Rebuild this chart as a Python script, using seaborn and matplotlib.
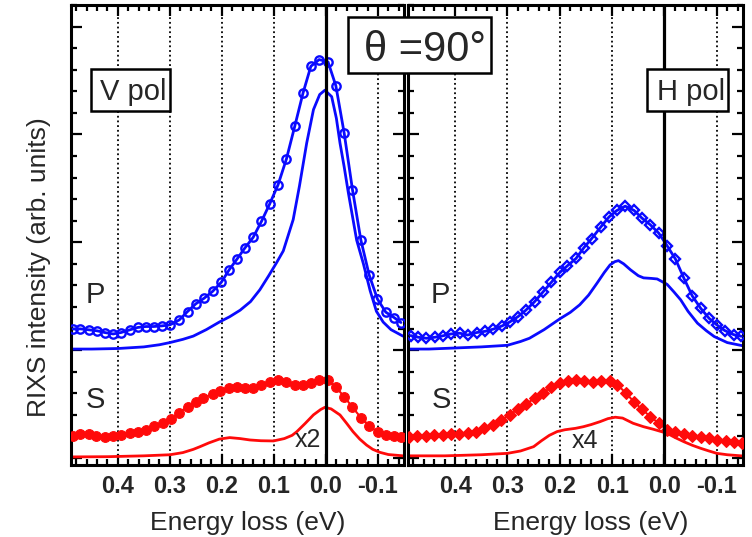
import matplotlib
matplotlib.use("Agg")
import matplotlib.pyplot as plt
from matplotlib.patches import Rectangle
from matplotlib.ticker import MultipleLocator
import pandas as pd
import seaborn as sns

# ---------------- V pol : P channel ----------------
vpol_p_exp_e = [0.486, 0.472, 0.455, 0.440, 0.425, 0.409, 0.394, 0.377, 0.362, 0.346,
                0.331, 0.315, 0.300, 0.282, 0.266, 0.250, 0.234, 0.218, 0.201, 0.186,
                0.171, 0.156, 0.140, 0.124, 0.108, 0.092, 0.076, 0.060, 0.044, 0.029,
                0.013, -0.004, -0.019, -0.035, -0.051, -0.067, -0.083, -0.099, -0.115,
                -0.131, -0.144]
vpol_p_exp_i = [1.197, 1.197, 1.188, 1.179, 1.163, 1.150, 1.163, 1.188, 1.210, 1.219,
                1.219, 1.225, 1.234, 1.280, 1.358, 1.430, 1.482, 1.544, 1.630, 1.745,
                1.844, 1.946, 2.045, 2.193, 2.357, 2.534, 2.772, 3.075, 3.385, 3.632,
                3.694, 3.672, 3.452, 3.013, 2.487, 2.023, 1.698, 1.473, 1.352,
                1.302, 1.256]
vpol_p_calc_e = [0.490, 0.450, 0.400, 0.350, 0.320, 0.300, 0.275, 0.255, 0.230, 0.205,
                 0.185, 0.165, 0.145, 0.127, 0.110, 0.095, 0.082, 0.063, 0.051, 0.037,
                 0.024, 0.012, 0.002, -0.011, -0.020, -0.027, -0.035, -0.043, -0.051,
                 -0.059, -0.072, -0.085, -0.097, -0.110, -0.125, -0.148]
vpol_p_calc_i = [1.010, 1.010, 1.015, 1.030, 1.050, 1.070, 1.100, 1.130, 1.190, 1.260,
                 1.310, 1.370, 1.450, 1.560, 1.690, 1.810, 1.920, 2.210, 2.520, 2.920,
                 3.230, 3.370, 3.410, 3.350, 3.150, 2.920, 2.700, 2.460, 2.240,
                 2.020, 1.800, 1.550, 1.360, 1.260, 1.190, 1.130]

# ---------------- V pol : S channel ----------------
vpol_s_exp_e = [0.487, 0.472, 0.455, 0.441, 0.425, 0.409, 0.393, 0.377, 0.361, 0.345,
                0.331, 0.314, 0.298, 0.282, 0.266, 0.250, 0.236, 0.218, 0.203, 0.186,
                0.171, 0.156, 0.140, 0.124, 0.108, 0.092, 0.077, 0.060, 0.044, 0.028,
                0.013, -0.003, -0.019, -0.035, -0.051, -0.067, -0.083, -0.100, -0.115,
                -0.130, -0.145]
vpol_s_exp_i = [0.204, 0.223, 0.223, 0.204, 0.198, 0.204, 0.213, 0.235, 0.245, 0.260,
                0.300, 0.322, 0.359, 0.421, 0.476, 0.523, 0.560, 0.590, 0.625, 0.650,
                0.657, 0.650, 0.650, 0.680, 0.708, 0.720, 0.705, 0.674, 0.674, 0.693,
                0.720, 0.720, 0.657, 0.569, 0.470, 0.375, 0.300, 0.237, 0.210,
                0.200, 0.193]
vpol_s_calc_e = [0.490, 0.420, 0.350, 0.300, 0.275, 0.255, 0.242, 0.225, 0.205, 0.185,
                 0.165, 0.146, 0.125, 0.101, 0.080, 0.065, 0.056, 0.040, 0.024, 0.010,
                 0.002, -0.010, -0.027, -0.040, -0.052, -0.065, -0.078, -0.090, -0.104,
                 -0.120, -0.148]
vpol_s_calc_i = [0.010, 0.012, 0.020, 0.030, 0.050, 0.080, 0.105, 0.140, 0.175, 0.189,
                 0.180, 0.167, 0.160, 0.158, 0.180, 0.210, 0.244, 0.320, 0.400, 0.450,
                 0.470, 0.455, 0.399, 0.320, 0.244, 0.175, 0.120, 0.080, 0.052,
                 0.032, 0.020]

# ---------------- H pol : P channel ----------------
hpol_p_exp_e = [0.485, 0.471, 0.455, 0.438, 0.424, 0.408, 0.391, 0.376, 0.359, 0.342,
                0.327, 0.310, 0.296, 0.280, 0.265, 0.248, 0.232, 0.216, 0.200, 0.186,
                0.169, 0.154, 0.139, 0.122, 0.106, 0.091, 0.075, 0.058, 0.043, 0.027,
                0.011, -0.005, -0.021, -0.037, -0.053, -0.069, -0.085, -0.100, -0.115,
                -0.132, -0.147]
hpol_p_exp_i = [1.135, 1.120, 1.110, 1.120, 1.132, 1.150, 1.157, 1.140, 1.163, 1.175,
                1.195, 1.225, 1.260, 1.310, 1.370, 1.450, 1.540, 1.630, 1.720, 1.780,
                1.850, 1.950, 2.035, 2.140, 2.235, 2.295, 2.335, 2.295, 2.224, 2.162,
                2.085, 1.968, 1.844, 1.668, 1.503, 1.389, 1.296, 1.234, 1.182,
                1.144, 1.128]
hpol_p_calc_e = [0.490, 0.450, 0.400, 0.350, 0.300, 0.275, 0.258, 0.230, 0.200, 0.180,
                 0.162, 0.145, 0.129, 0.115, 0.104, 0.095, 0.088, 0.078, 0.065, 0.050,
                 0.040, 0.025, 0.014, -0.005, -0.018, -0.031, -0.045, -0.063, -0.080,
                 -0.095, -0.120, -0.150]
hpol_p_calc_i = [1.010, 1.010, 1.020, 1.030, 1.045, 1.080, 1.110, 1.190, 1.290, 1.350,
                 1.420, 1.510, 1.620, 1.720, 1.790, 1.820, 1.830, 1.800, 1.745, 1.690,
                 1.670, 1.665, 1.660, 1.610, 1.540, 1.466, 1.360, 1.250, 1.180,
                 1.126, 1.070, 1.040]

# ---------------- H pol : S channel ----------------
hpol_s_exp_e = [0.488, 0.472, 0.456, 0.440, 0.424, 0.408, 0.392, 0.376, 0.360, 0.344,
                0.328, 0.312, 0.296, 0.280, 0.264, 0.248, 0.232, 0.216, 0.200, 0.184,
                0.169, 0.154, 0.137, 0.121, 0.105, 0.090, 0.073, 0.059, 0.043, 0.027,
                0.011, -0.005, -0.021, -0.037, -0.053, -0.069, -0.085, -0.101, -0.117,
                -0.133, -0.149]
hpol_s_exp_i = [0.198, 0.204, 0.204, 0.213, 0.213, 0.220, 0.223, 0.229, 0.245, 0.276,
                0.306, 0.353, 0.399, 0.452, 0.501, 0.554, 0.606, 0.656, 0.693, 0.718,
                0.724, 0.715, 0.708, 0.715, 0.715, 0.677, 0.600, 0.523, 0.452, 0.383,
                0.322, 0.260, 0.245, 0.223, 0.204, 0.198, 0.183, 0.167, 0.161,
                0.152, 0.142]
hpol_s_calc_e = [0.490, 0.420, 0.350, 0.300, 0.275, 0.250, 0.235, 0.220, 0.205, 0.190,
                 0.170, 0.155, 0.140, 0.123, 0.108, 0.094, 0.080, 0.060, 0.040, 0.021,
                 -0.005, -0.020, -0.037, -0.053, -0.069, -0.085, -0.100, -0.120, -0.149]
hpol_s_calc_i = [0.020, 0.020, 0.030, 0.043, 0.065, 0.105, 0.160, 0.210, 0.245, 0.262,
                 0.275, 0.290, 0.310, 0.337, 0.365, 0.378, 0.370, 0.322, 0.290, 0.266,
                 0.229, 0.190, 0.151, 0.118, 0.090, 0.065, 0.043, 0.030, 0.019]

energy_ticks = [0.4, 0.3, 0.2, 0.1, 0.0, -0.1]
energy_tick_labels = ["0.4", "0.3", "0.2", "0.1", "0.0", "-0.1"]

BLUE = "#0a0aff"
RED = "#ff0a0a"
W, H = 752, 537

sns.set_style("ticks")
plt.rcParams["font.family"] = ["Liberation Sans", "DejaVu Sans"]
plt.rcParams["axes.unicode_minus"] = False

fig = plt.figure(figsize=(W / 100, H / 100), dpi=100)


def rect_px(x0, y0, x1, y1):
    return [x0 / W, 1 - y1 / H, (x1 - x0) / W, (y1 - y0) / H]


ax_v = fig.add_axes(rect_px(71, 5, 404, 465))
ax_h = fig.add_axes(rect_px(408, 5, 743, 465))


def draw_series(ax, e, i, **kw):
    df = pd.DataFrame({"energy": e, "intensity": i})
    sns.lineplot(data=df, x="energy", y="intensity", ax=ax, sort=False,
                 estimator=None, **kw)


panels = [
    (ax_v, (vpol_p_exp_e, vpol_p_exp_i), (vpol_p_calc_e, vpol_p_calc_i),
     (vpol_s_exp_e, vpol_s_exp_i), (vpol_s_calc_e, vpol_s_calc_i), "o", "o"),
    (ax_h, (hpol_p_exp_e, hpol_p_exp_i), (hpol_p_calc_e, hpol_p_calc_i),
     (hpol_s_exp_e, hpol_s_exp_i), (hpol_s_calc_e, hpol_s_calc_i), "D", "D"),
]

for ax, p_exp, p_calc, s_exp, s_calc, pm, sm in panels:
    ax.set_facecolor("white")
    ax.grid(False)
    ax.set_xlim(0.49, -0.15)
    ax.set_ylim(-0.065, 4.2)

    # dotted guides at the labelled energies, solid line at the elastic position
    for e0 in energy_ticks:
        if e0 != 0.0:
            ax.axvline(e0, color="black", lw=1.3, ls=(0, (1, 1.6)), zorder=1)
    ax.axvline(0.0, color="black", lw=2.3, zorder=4)

    draw_series(ax, *p_calc, color=BLUE, lw=2.0, zorder=2)
    draw_series(ax, *s_calc, color=RED, lw=2.0, zorder=2)
    draw_series(ax, *p_exp, color=BLUE, lw=2.0, marker=pm,
                markersize=6.0 if pm == "o" else 5.5,
                markerfacecolor="none", markeredgecolor=BLUE,
                markeredgewidth=1.7, zorder=3)
    draw_series(ax, *s_exp, color=RED, lw=1.5, marker=sm,
                markersize=7.0 if sm == "o" else 6.5,
                markerfacecolor=RED, markeredgecolor=RED,
                markeredgewidth=0.8, zorder=3)

    ax.set_xticks(energy_ticks)
    ax.set_xticklabels(energy_tick_labels, fontsize=17, fontweight="bold")
    ax.xaxis.set_minor_locator(MultipleLocator(0.02))
    ax.yaxis.set_major_locator(MultipleLocator(1.0))
    ax.yaxis.set_minor_locator(MultipleLocator(0.2))
    ax.tick_params(which="both", direction="in", top=True, right=True,
                   bottom=True, left=True, labelleft=False, color="black",
                   width=1.6)
    ax.tick_params(which="major", length=8, pad=7)
    ax.tick_params(which="minor", length=4.5)
    ax.set_xlabel("")
    ax.set_ylabel("")
    for sp in ax.spines.values():
        sp.set_visible(True)
        sp.set_linewidth(2.2)
        sp.set_color("black")


def fig_box(x0, y0, x1, y1):
    fig.patches.append(Rectangle((x0 / W, 1 - y1 / H), (x1 - x0) / W,
                                 (y1 - y0) / H, transform=fig.transFigure,
                                 facecolor="white", edgecolor="black",
                                 linewidth=1.8, zorder=5))


def fig_label(x, y, s, size, **kw):
    fig.text(x / W, 1 - y / H, s, fontsize=size, zorder=6, **kw)


fig_box(348, 17, 491, 73)
fig_label(425, 61, "θ =90°", 30, ha="center", va="baseline")
fig_box(91, 69, 170, 111)
fig_label(133, 100, "V pol", 21, ha="center", va="baseline")
fig_box(647, 69, 728, 111)
fig_label(691, 100, "H pol", 21, ha="center", va="baseline")

fig_label(95, 303, "P", 21, ha="center", va="baseline")
fig_label(440, 303, "P", 21, ha="center", va="baseline")
fig_label(95, 408, "S", 21, ha="center", va="baseline")
fig_label(441, 408, "S", 21, ha="center", va="baseline")
fig_label(308, 447, "x2", 18, ha="center", va="baseline")
fig_label(585, 448, "x4", 18, ha="center", va="baseline")

fig_label(248, 530, "Energy loss (eV)", 19, ha="center", va="baseline")
fig_label(591, 530, "Energy loss (eV)", 19, ha="center", va="baseline")
fig_label(39, 267, "RIXS intensity (arb. units)", 19, ha="center",
          va="center", rotation=90)

fig.savefig("out.png", dpi=100, facecolor="white")
